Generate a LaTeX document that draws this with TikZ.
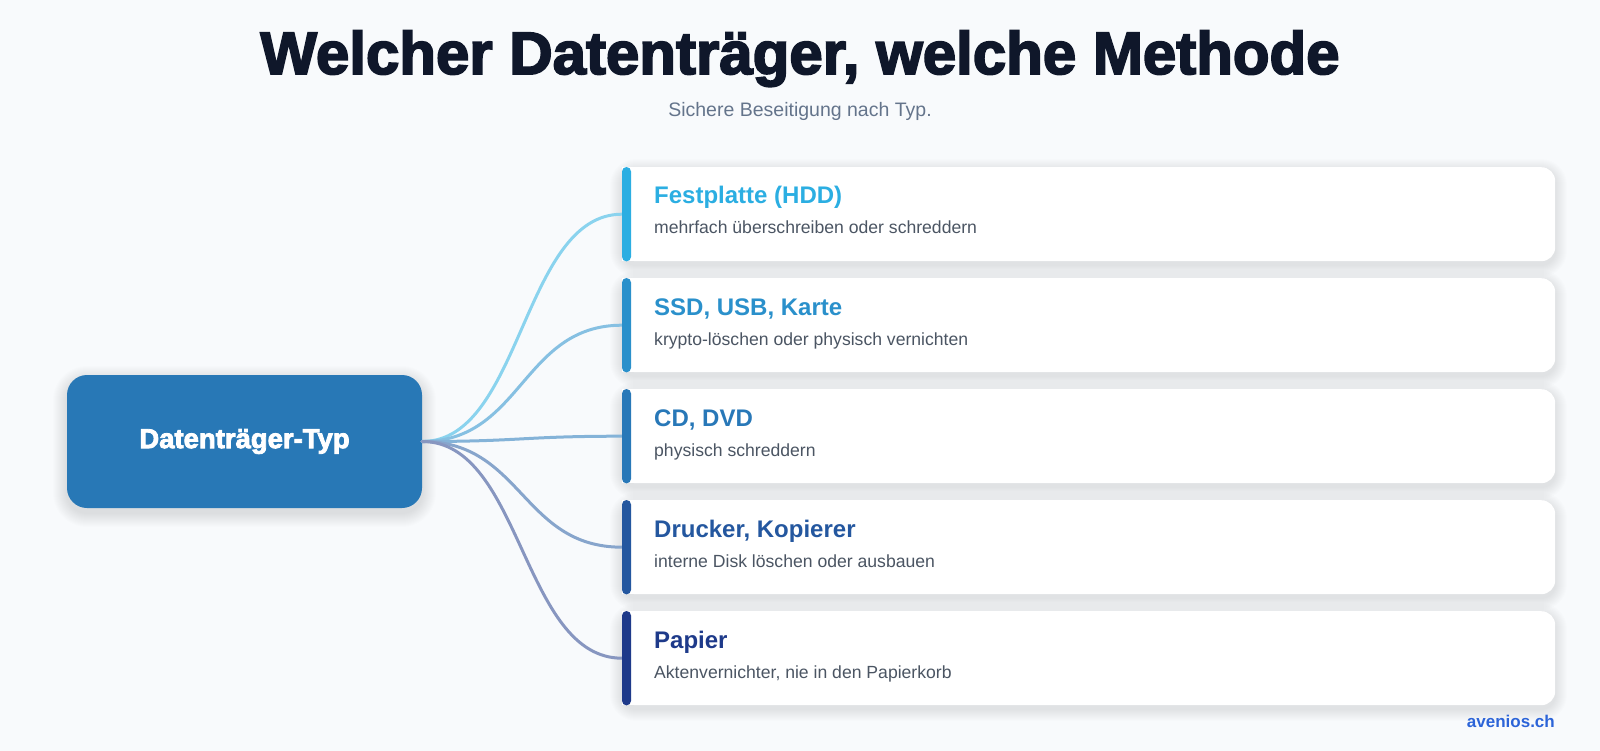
\documentclass[tikz,border=0pt]{standalone}
\usepackage{fontspec}
\setmainfont{Liberation Sans}
\newfontfamily\heavyfont{Liberation Sans Bold}[FakeBold=3]
\definecolor{bg}{HTML}{F8FAFC}
\definecolor{titlecol}{HTML}{0F172A}
\definecolor{subcol}{HTML}{64748B}
\definecolor{desccol}{HTML}{4B5563}
\definecolor{hubcol}{HTML}{2878B6}
\definecolor{cA}{HTML}{2BAEE2}
\definecolor{cB}{HTML}{2A90CB}
\definecolor{cC}{HTML}{2878B8}
\definecolor{cD}{HTML}{24579F}
\definecolor{cE}{HTML}{1E3A8A}
\definecolor{lA}{HTML}{8AD3EE}
\definecolor{lB}{HTML}{86C0E2}
\definecolor{lC}{HTML}{84B3D8}
\definecolor{lD}{HTML}{87A5CC}
\definecolor{lE}{HTML}{8796C0}
\definecolor{brand}{HTML}{2C64D8}
\definecolor{shadowcol}{HTML}{334155}
\tikzset{
  card/.style={draw=none, fill=white, rounded corners=14pt, minimum width=933pt, minimum height=94pt, inner sep=0pt, anchor=north west},
  hub/.style={fill=hubcol, rounded corners=20pt, minimum width=355pt, minimum height=133pt, inner sep=0pt, text=white,
    font=\heavyfont\fontsize{27.5}{32}\selectfont},
  ctitle/.style={anchor=base west, inner sep=0pt, font=\bfseries\fontsize{24}{28}\selectfont},
  cdesc/.style={anchor=base west, inner sep=0pt, text=desccol, font=\fontsize{17.6}{21}\selectfont},
  conn/.style={line width=3pt, line cap=round},
  softshadow/.style={fill=shadowcol, opacity=0.008},
}
\begin{document}
\begin{tikzpicture}[x=1pt,y=-1pt]
\useasboundingbox (0,0) rectangle (1600,751);
\fill[bg] (0,0) rectangle (1600,751);

\node[anchor=base, inner sep=0pt, text=titlecol, font=\heavyfont\fontsize{60}{72}\selectfont] (title) at (800,74) {Welcher Datenträger, welche Methode};
\node[anchor=base, inner sep=0pt, text=subcol, font=\fontsize{19.5}{24}\selectfont] (sub) at (800,117) {Sichere Beseitigung nach Typ.};

% hub shadow coordinates
\coordinate (hubnw) at (67,375);
\coordinate (hubse) at (422,508);
\foreach \k in {1,...,14}{
  \fill[softshadow, rounded corners={20pt+\k pt}] ([xshift=-\k pt, yshift={\k pt-5pt}]hubnw) rectangle ([xshift=\k pt, yshift={-\k pt-5pt}]hubse);
}
\node[hub] (hub) at (244.5,441.5) {Datenträger-Typ};

% card shadows
\foreach \yy in {167,278,389,500,611}{
  \foreach \k in {1,...,12}{
    \fill[softshadow, rounded corners={14pt+\k pt}] ([xshift=-\k pt, yshift={\k pt-4pt}]622,\yy) rectangle ([xshift=\k pt, yshift={-\k pt-4pt}]1555,\yy+94);
  }
}

% cards
\node[card] (c1) at (622,167) {};
\node[card] (c2) at (622,278) {};
\node[card] (c3) at (622,389) {};
\node[card] (c4) at (622,500) {};
\node[card] (c5) at (622,611) {};

% connectors
\draw[conn, lA] (hub.east) .. controls +(100,0) and +(-100,0) .. (c1.west);
\draw[conn, lB] (hub.east) .. controls +(100,0) and +(-100,0) .. (c2.west);
\draw[conn, lC] (hub.east) .. controls +(100,0) and +(-100,0) .. (c3.west);
\draw[conn, lD] (hub.east) .. controls +(100,0) and +(-100,0) .. (c4.west);
\draw[conn, lE] (hub.east) .. controls +(100,0) and +(-100,0) .. (c5.west);

% square off left corners and draw accent bars
\foreach \n/\col in {c1/cA, c2/cB, c3/cC, c4/cD, c5/cE}{
  \fill[white] (\n.north west) rectangle ([xshift=20pt]\n.south west);
  \fill[\col, rounded corners=4.5pt] (\n.north west) rectangle ([xshift=9pt]\n.south west);
}

\node[ctitle, text=cA] (t1) at (654,204) {Festplatte (HDD)};
\node[cdesc] (d1) at (654,234) {mehrfach überschreiben oder schreddern};
\node[ctitle, text=cB] (t2) at (654,315) {SSD, USB, Karte};
\node[cdesc] (d2) at (654,345) {krypto-löschen oder physisch vernichten};
\node[ctitle, text=cC] (t3) at (654,426) {CD, DVD};
\node[cdesc] (d3) at (654,456) {physisch schreddern};
\node[ctitle, text=cD] (t4) at (654,537) {Drucker, Kopierer};
\node[cdesc] (d4) at (654,567) {interne Disk löschen oder ausbauen};
\node[ctitle, text=cE] (t5) at (654,648) {Papier};
\node[cdesc] (d5) at (654,678) {Aktenvernichter, nie in den Papierkorb};

\node[anchor=base east, inner sep=0pt, text=brand, font=\bfseries\fontsize{17}{20}\selectfont] (brandname) at (1555,727) {avenios.ch};
\end{tikzpicture}
\end{document}
